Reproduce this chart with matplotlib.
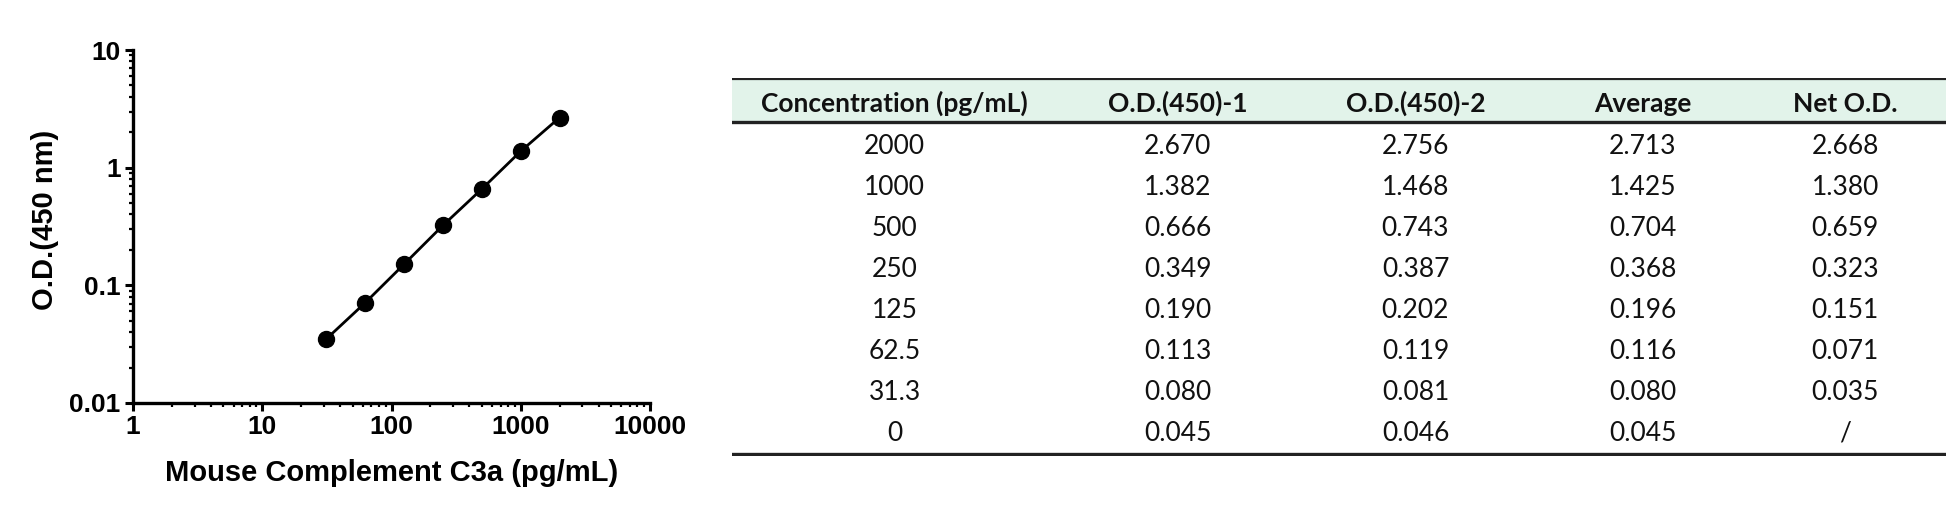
import matplotlib.pyplot as plt
import numpy as np

# standard curve data
conc = [31.3, 62.5, 125, 250, 500, 1000, 2000]
net_od = [0.035, 0.071, 0.151, 0.323, 0.659, 1.380, 2.668]

# table contents
headers = ["Concentration (pg/mL)", "O.D.(450)-1", "O.D.(450)-2", "Average", "Net O.D."]
col_conc = ["2000", "1000", "500", "250", "125", "62.5", "31.3", "0"]
col_od1 = ["2.670", "1.382", "0.666", "0.349", "0.190", "0.113", "0.080", "0.045"]
col_od2 = ["2.756", "1.468", "0.743", "0.387", "0.202", "0.119", "0.081", "0.046"]
col_avg = ["2.713", "1.425", "0.704", "0.368", "0.196", "0.116", "0.080", "0.045"]
col_net = ["2.668", "1.380", "0.659", "0.323", "0.151", "0.071", "0.035", "/"]

W, H = 1946, 515
fig = plt.figure(figsize=(W / 100, H / 100), dpi=100)

# ---- curve ----
ax = fig.add_axes([133 / W, 1 - 403 / H, (650 - 133) / W, (403 - 50) / H])
ax.plot(conc, net_od, color="black", lw=2, marker="o", ms=11.5, zorder=3, clip_on=False)
ax.set_xscale("log")
ax.set_yscale("log")
ax.set_xlim(1, 10000)
ax.set_ylim(0.01, 10)
ax.set_xticks([1, 10, 100, 1000, 10000])
ax.set_xticklabels(["1", "10", "100", "1000", "10000"])
ax.set_yticks([0.01, 0.1, 1, 10])
ax.set_yticklabels(["0.01", "0.1", "1", "10"])
for s in ["top", "right"]:
    ax.spines[s].set_visible(False)
for s in ["left", "bottom"]:
    ax.spines[s].set_linewidth(2.4)
ax.tick_params(which="major", length=6, width=2.2, labelsize=19, pad=3)
ax.tick_params(which="minor", length=3, width=1.6)
for lab in ax.get_xticklabels() + ax.get_yticklabels():
    lab.set_fontweight("bold")
    lab.set_family("Liberation Sans")
ax.set_xlabel("Mouse Complement C3a (pg/mL)", fontsize=21, fontweight="bold",
              family="Liberation Sans", labelpad=14)
ax.set_ylabel("O.D.(450 nm)", fontsize=21, fontweight="bold",
              family="Liberation Sans")
ax.yaxis.set_label_coords(-0.143, 0.52)

# ---- table ----
row_h = 41
top_r, bot_r = -1.62, 7.6
tab = fig.add_axes([732 / W, 1 - (144 + bot_r * row_h) / H, (W - 732) / W,
                    (bot_r - top_r) * row_h / H])
tab.set_xlim(0, 1)
tab.set_ylim(bot_r, top_r)
tab.axis("off")

col_x = [0.134, 0.367, 0.563, 0.750, 0.917]
columns = [col_conc, col_od1, col_od2, col_avg, col_net]

tab.axhspan(-1.585, -0.537, color="#e2f3ea", lw=0)
tab.axhline(-1.585, color="#222222", lw=1.6)
tab.axhline(-0.537, color="#222222", lw=2.4)
tab.axhline(7.56, color="#222222", lw=2.4)

for x, h in zip(col_x, headers):
    tab.text(x, -0.98, h, ha="center", va="center", fontsize=19,
             fontweight="bold", family="Lato", color="#111111")
for x, col in zip(col_x, columns):
    for i, v in enumerate(col):
        tab.text(x, i + 0.06, v, ha="center", va="center", fontsize=19,
                 family="Lato", color="#111111")

fig.savefig("out.png", dpi=100)
